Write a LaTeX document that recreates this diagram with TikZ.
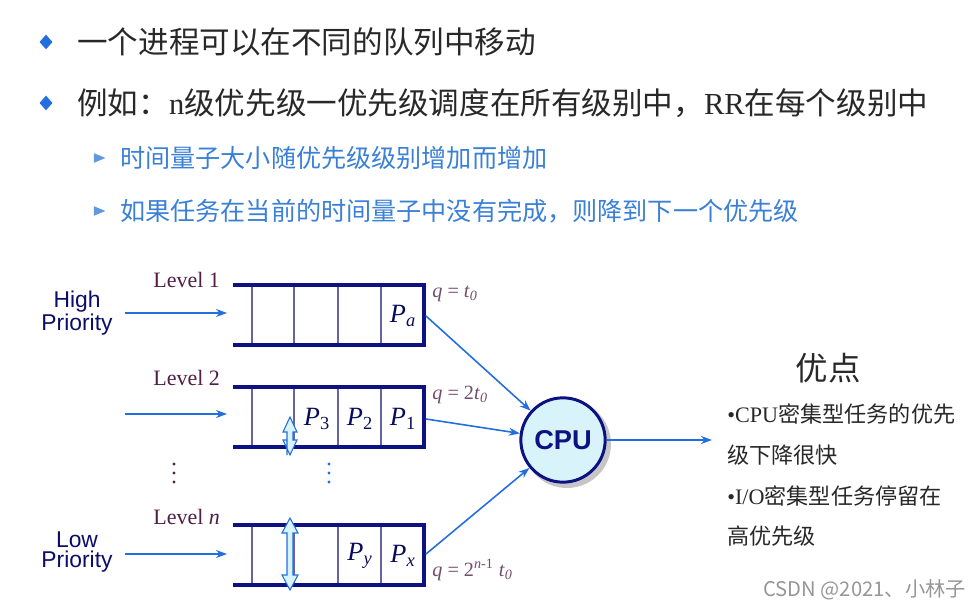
\documentclass[tikz,border=0pt]{standalone}
\usepackage{fontspec}
\setmainfont{Liberation Serif}
\newfontfamily\cjk{Noto Sans CJK SC}
\newfontfamily\arialf{Liberation Sans}
\usetikzlibrary{shapes.geometric, arrows.meta, positioning, calc}
\definecolor{cText}{RGB}{40,40,40}
\definecolor{cBlue}{RGB}{34,110,222}
\definecolor{cLight}{RGB}{58,128,214}
\definecolor{cNavy}{RGB}{12,18,130}
\definecolor{cCell}{RGB}{100,100,160}
\definecolor{cPurple}{RGB}{80,30,70}
\definecolor{cCpu}{RGB}{216,244,250}
\definecolor{cMark}{RGB}{150,150,150}
\tikzset{
	bul/.style      ={diamond, fill=cBlue, inner sep=0pt, minimum width=7.5pt, minimum height=8.5pt},
	subbul/.style   ={isosceles triangle, fill=cLight!80, inner sep=0pt, minimum width=5.5pt, minimum height=6pt},
	mainline/.style ={anchor=west, inner sep=0pt, text=cText, font=\fontsize{17.4}{20}\selectfont},
	subline/.style  ={anchor=west, inner sep=0pt, text=cLight, font=\cjk\fontsize{14.3}{17}\selectfont},
	lvl/.style      ={anchor=west, inner sep=0pt, text=cPurple, font=\fontsize{12.5}{14}\selectfont},
	prio/.style     ={align=center, inner sep=0pt, text=cNavy!80!black, font=\arialf\fontsize{13}{11.5}\selectfont},
	plab/.style     ={inner sep=0pt, text=cNavy!70!black, font=\fontsize{15}{17}\selectfont},
	qlab/.style     ={anchor=west, inner sep=0pt, text=cPurple!80, font=\fontsize{11.5}{13}\selectfont},
	proc/.style     ={circle, draw=cNavy, line width=1.7pt, fill=cCpu, minimum size=48pt, inner sep=0pt, text=cNavy, font=\arialf\bfseries\fontsize{15.5}{17}\selectfont},
	note/.style     ={anchor=west, inner sep=0pt, text=cText, font=\fontsize{12.6}{15}\selectfont},
	qwall/.style    ={cNavy, line width=2.8pt},
	qcell/.style    ={cCell, line width=0.7pt},
	flow/.style     ={-{Stealth[length=2.2mm, width=1.6mm]}, cBlue, line width=0.9pt},
	updown/.style   ={draw=cBlue, fill=cCpu, line width=0.6pt},
}
\begin{document}
\begin{tikzpicture}[x=0.02cm, y=-0.02cm]
	\useasboundingbox (0,0) rectangle (976,607);
	% bullet text
	\node[bul] (b1) at (46,42) {};
	\node[mainline] (t1) at (77,42) {\cjk 一个进程可以在不同的队列中移动};
	\node[bul] (b2) at (46,103) {};
	\node[mainline] (t2) at (77,103) {{\cjk 例如：}n{\cjk 级优先级一优先级调度在所有级别中，}RR{\cjk 在每个级别中}};
	\node[subbul] (s1) at (97,158) {};
	\node[subline] (t3) at (120,158) {时间量子大小随优先级级别增加而增加};
	\node[subbul] (s2) at (97,211) {};
	\node[subline] (t4) at (120,211) {如果任务在当前的时间量子中没有完成，则降到下一个优先级};
	% queues
	\foreach \y in {285,387,525} {
		\foreach \x in {252,294,338,381} \draw[qcell] (\x,\y) -- (\x,\y+60);
		\draw[qwall] (233,\y) -- (424,\y) -- (424,\y+60) -- (233,\y+60);
	}
	\coordinate (q1) at (426,316);
	\coordinate (q2) at (426,419);
	\coordinate (q3) at (426,554);
	% move between levels
	\draw[updown] (287,455) -- (287,432) -- (283,432) -- (290,417) -- (297,432) -- (293,432) -- (293,440) -- (297,440) -- (290,455) -- (283,440) -- (287,440) -- cycle;
	\draw[updown] (287,575) -- (287,533) -- (282,533) -- (290,518) -- (298,533) -- (293,533) -- (293,575) -- (298,575) -- (290,590) -- (282,575) -- cycle;
	% labels
	\node[lvl] (l1) at (153,280) {Level 1};
	\node[lvl] (l2) at (153,378) {Level 2};
	\node[lvl] (l3) at (153,517) {Level \textit{n}};
	\node[prio] (hp) at (77,313) {High\\Priority};
	\node[prio] (lp) at (77,552) {Low\\Priority};
	\node[plab] (pa) at (403,316) {\textit{P}\textsubscript{\textit{a}}};
	\node[plab] (p3) at (317,419) {\textit{P}\textsubscript{3}};
	\node[plab] (p2) at (360,419) {\textit{P}\textsubscript{2}};
	\node[plab] (p1) at (403,419) {\textit{P}\textsubscript{1}};
	\node[plab] (py) at (360,556) {\textit{P}\textsubscript{\textit{y}}};
	\node[plab] (px) at (403,556) {\textit{P}\textsubscript{\textit{x}}};
	\node[qlab] (r1) at (432,294) {\textit{q} = \textit{t}\textsubscript{\textit{0}}};
	\node[qlab] (r2) at (432,395) {\textit{q} = 2\textit{t}\textsubscript{\textit{0}}};
	\node[qlab] (r3) at (432,570) {\textit{q} = 2\textsuperscript{\textit{n}-1} \textit{t}\textsubscript{\textit{0}}};
	% dots
	\foreach \d in {464,473,482} {
		\fill[cPurple] (174,\d) circle (1.6);
		\fill[cBlue] (329,\d) circle (1.6);
	}
	% incoming arrows
	\coordinate (a1) at (125,313);
	\coordinate (a2) at (125,414);
	\coordinate (a3) at (125,554);
	\coordinate (e1) at (227,313);
	\coordinate (e2) at (227,414);
	\coordinate (e3) at (227,554);
	\foreach \i in {1,2,3} \draw[flow] (a\i) -- (e\i);
	% cpu
	\fill[gray!45] (567,444) circle (44);
	\node[proc] (cpu) at (563,440) {CPU};
	\foreach \i in {1,2,3} \draw[flow] (q\i) -- (cpu);
	\coordinate (out) at (712,440);
	\draw[flow] (cpu) -- (out);
	% advantages
	\node[inner sep=0pt, text=cText, font=\cjk\fontsize{18.5}{20}\selectfont] (adv) at (828,368) {优点};
	\node[note] (n1) at (727,414) {•CPU{\cjk 密集型任务的优先}};
	\node[note] (n2) at (727,455) {\cjk 级下降很快};
	\node[note] (n3) at (727,496) {•I/O{\cjk 密集型任务停留在}};
	\node[note] (n4) at (727,536) {\cjk 高优先级};
	\node[anchor=east, inner sep=0pt, text=cMark, font=\cjk\fontsize{11.5}{13}\selectfont] (wm) at (966,590) {CSDN @2021、小林子};
\end{tikzpicture}
\end{document}
